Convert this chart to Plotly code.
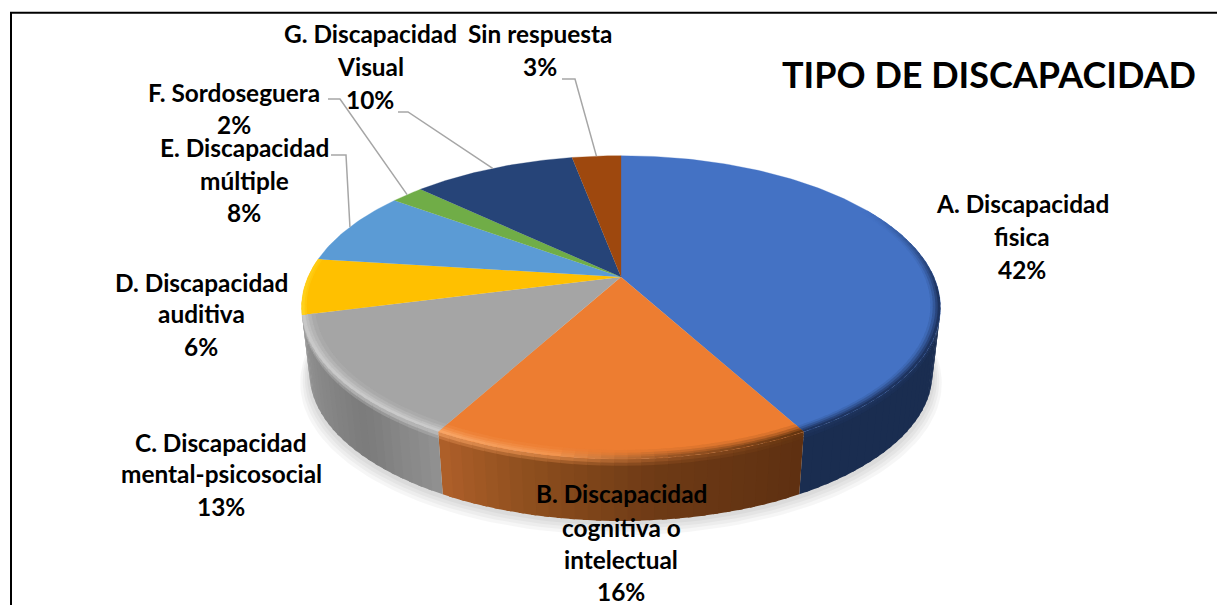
import numpy as np
import plotly.graph_objects as go

# slices, clockwise from 12 o'clock
categories = ["A. Discapacidad fisica", "B. Discapacidad cognitiva o intelectual",
              "C. Discapacidad mental-psicosocial", "D. Discapacidad auditiva",
              "E. Discapacidad múltiple", "F. Sordoseguera",
              "G. Discapacidad Visual", "Sin respuesta"]
values = [42, 16, 13, 6, 8, 2, 10, 3]
label_lines = [["A. Discapacidad", "fisica"], ["B. Discapacidad", "cognitiva o", "intelectual"],
               ["C. Discapacidad", "mental-psicosocial"], ["D. Discapacidad", "auditiva"],
               ["E. Discapacidad", "múltiple"], ["F. Sordoseguera"],
               ["G. Discapacidad", "Visual"], ["Sin respuesta"]]
title_text = "TIPO DE DISCAPACIDAD"

face_colors = ["#4472C4", "#ED7D31", "#A5A5A5", "#FFC000", "#5B9BD5", "#70AD47", "#264478", "#9E480E"]
# (angle in degrees, colour) stops for the side wall and the bevel on its top edge
wall_stops = [
    [(100, "#1A2D50"), (152, "#1A2D50")],
    [(151, "#5E3011"), (175, "#6E3A15"), (195, "#90501F"), (209, "#B0602A")],
    [(208, "#929292"), (225, "#7B7B7B"), (245, "#8C8C8C"), (259, "#9A9A9A")],
]
rim_stops = [
    [(60, "#4472C4"), (95, "#1E3460"), (152, "#1E3460")],
    [(151, "#63340F"), (172, "#9A5524"), (190, "#F2944E"), (209, "#F8A566")],
    [(208, "#CACACA"), (256, "#C8C8C8")],
    [(255, "#FFD21F"), (278, "#FFCB10")],
]
# radial bevel bands per slice: inner radius, outer radius, share of the rim colour
rim_bands = [
    [(0.97, 0.98, 0.15), (0.977, 0.987, 0.42), (0.985, 0.994, 0.72), (0.992, 1.0, 1.0)],
    [(0.96, 0.975, 0.15), (0.972, 0.985, 0.42), (0.982, 0.993, 0.72), (0.99, 1.0, 1.0)],
    [(0.96, 0.975, 0.15), (0.972, 0.985, 0.42), (0.982, 0.993, 0.72), (0.99, 1.0, 1.0)],
    [(0.985, 0.993, 0.5), (0.991, 1.0, 1.0)],
]

# label placement: centre x, y of each line, in pixels
label_x = [1022, 621, 221, 201, 244, 234, 370, 540]
label_y = [[203, 236, 269], [493, 527, 559, 591], [442, 473, 506], [282, 313, 346],
           [147, 180, 212], [92, 124], [33, 66, 99], [33, 66]]
# leader lines: start and elbow of the label end, the pie end comes from the slice angle
leader_slices = [4, 5, 6, 7]
leader_start = [(331, 155), (328, 99), (398, 112), (562, 79)]
leader_elbow = [(346, 155), (340, 99), (408, 112), (575, 79)]

CX, CY, RX, RY, PERSP = 621, 277, 313, 145.6, 0.2
BOTTOM_CY, BOTTOM_SCALE = 343.5, 0.975
WALL_END = 258.5  # left silhouette of the pie
FONT = "Lato"

edges = np.concatenate([[0], np.cumsum(values)]) / sum(values) * 360


def project(theta, r=1.0, cy=CY, scale=1.0):
    t = np.radians(theta)
    x, z = r * np.sin(t), r * np.cos(t)
    d = 1 + PERSP * z
    return CX + scale * RX * x / d, cy - scale * RY * z / d


def wall_point(theta, h):
    x0, y0 = project(theta)
    x1, y1 = project(theta, cy=BOTTOM_CY, scale=BOTTOM_SCALE)
    return x0 + (x1 - x0) * h, y0 + (y1 - y0) * h


def rgb(c):
    return np.array([int(c[i:i + 2], 16) for i in (1, 3, 5)], float)


def to_hex(v):
    return "#%02x%02x%02x" % tuple(int(round(i)) for i in v)


def mix(a, b, w):
    return a + (b - a) * w


def stop_color(stops, theta):
    ang = [s[0] for s in stops]
    cols = np.array([rgb(s[1]) for s in stops])
    return np.array([np.interp(theta, ang, cols[:, i]) for i in range(3)])


def poly(xs, ys, color, line=0.0):
    return go.Scatter(x=list(xs), y=list(ys), mode="lines", fill="toself", fillcolor=color,
                      line=dict(color=color, width=line), hoverinfo="skip", showlegend=False)


def quad(th0, th1, pt0, pt1, color):
    ts = np.linspace(th0, th1, 3)
    ax, ay = pt0(ts)
    bx, by = pt1(ts[::-1])
    return poly(np.concatenate([ax, bx]), np.concatenate([ay, by]), color)


traces = []

# soft shadow under the pie
th = np.linspace(70, 290, 120)
for grow, dy in [(1.03, 9), (1.022, 7), (1.015, 5), (1.008, 3)]:
    sx, sy = project(th, cy=BOTTOM_CY + dy, scale=BOTTOM_SCALE * grow)
    traces.append(go.Scatter(x=list(sx) + [CX], y=list(sy) + [BOTTOM_CY], mode="lines", fill="toself",
                             fillcolor="rgba(0,0,0,0.035)", line_width=0, hoverinfo="skip", showlegend=False))

# side wall, from the right silhouette round the front to the left one
STEP = 2
for i, stops in enumerate(wall_stops):
    lo = max(edges[i], 101.5)
    hi = WALL_END if i == len(wall_stops) - 1 else edges[i + 1]
    n = max(1, int(np.ceil((hi - lo) / STEP)))
    th = np.linspace(lo, hi, n + 1)
    for a, b in zip(th[:-1], th[1:]):
        mid = (a + b) / 2
        wall = stop_color(stops, mid)
        rim = stop_color(rim_stops[i], mid)
        # each quad runs a little under the next one, so no seams show
        end = min(b + 0.8, hi)
        for h0, h1, w in [(0.09, 1, 0), (0.04, 0.11, 0.3), (0, 0.06, 0.65)]:
            c = to_hex(mix(wall, rim, w))
            traces.append(quad(a, end, lambda t: wall_point(t, h0), lambda t: wall_point(t, h1), c))

# top face
for i, color in enumerate(face_colors):
    th = np.linspace(edges[i], edges[i + 1], max(3, int(edges[i + 1] - edges[i]) + 2))
    x, y = project(th)
    traces.append(poly(np.append(x, CX), np.append(y, CY), color, line=0.3))

# bevel along the front of the top face
for i, stops in enumerate(rim_stops):
    lo, hi = max(edges[i], stops[0][0]), min(edges[i + 1], stops[-1][0])
    if i == 0:
        lo = 60
    n = max(1, int(np.ceil((hi - lo) / STEP)))
    th = np.linspace(lo, hi, n + 1)
    face = rgb(face_colors[i])
    for a, b in zip(th[:-1], th[1:]):
        rim = stop_color(stops, (a + b) / 2)
        end = min(b + 0.8, hi)
        for r0, r1, w in rim_bands[i]:
            traces.append(quad(a, end, lambda t: project(t, r0), lambda t: project(t, r1),
                               to_hex(mix(face, rim, w))))

# leader lines
for s, start, elbow in zip(leader_slices, leader_start, leader_elbow):
    ex, ey = project((edges[s] + edges[s + 1]) / 2)
    traces.append(go.Scatter(x=[start[0], elbow[0], ex], y=[start[1], elbow[1], ey], mode="lines",
                             line=dict(color="#A6A6A6", width=1.5), hoverinfo="skip", showlegend=False))

annotations = []
for lines, val, x, ys in zip(label_lines, values, label_x, label_y):
    for text, y in zip(lines + [f"{val}%"], ys):
        annotations.append(dict(x=x, y=y, text=text, showarrow=False, xanchor="center", yanchor="middle",
                                font=dict(family=FONT, size=24.4, color="#000000", weight="bold")))
annotations.append(dict(x=989, y=74, text=title_text, showarrow=False, xanchor="center", yanchor="middle",
                        font=dict(family=FONT, size=36, color="#000000", weight="bold")))

fig = go.Figure(traces)
fig.update_layout(
    width=1217, height=605, margin=dict(l=0, r=0, t=0, b=0),
    paper_bgcolor="white", plot_bgcolor="white", showlegend=False, annotations=annotations,
    xaxis=dict(range=[0, 1217], visible=False, fixedrange=True),
    yaxis=dict(range=[605, 0], visible=False, fixedrange=True),
    shapes=[
        dict(type="line", x0=11, x1=11, y0=12, y1=605, line=dict(color="black", width=2)),
        dict(type="line", x0=10, x1=1217, y0=12.7, y1=12.7, line=dict(color="black", width=2)),
    ],
)
fig.write_html("out.html", config=dict(displayModeBar=False),
               post_script="document.body.style.margin='0';document.body.style.overflow='hidden';"
                           "document.body.style.fontVariantLigatures='none';")
